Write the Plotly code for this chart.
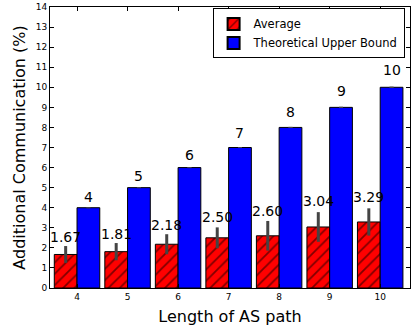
import plotly.graph_objects as go

path_len = [4, 5, 6, 7, 8, 9, 10]
avg = [1.67, 1.81, 2.18, 2.50, 2.60, 3.04, 3.29]
avg_err = [0.42, 0.43, 0.50, 0.52, 0.74, 0.74, 0.68]
upper = [4, 5, 6, 7, 8, 9, 10]
upper_err = [0, 0, 0, 0, 0, 0, 0]
y_ticks = list(range(0, 15))

FONT = "DejaVu Sans"
W = 0.45

fig = go.Figure()
fig.add_trace(go.Bar(
    x=path_len, y=avg, name="Average", width=W, offset=-W,
    marker=dict(color="red", line=dict(color="black", width=1),
                pattern=dict(shape="/", fgcolor="black", bgcolor="red", size=8, solidity=0.22)),
    error_y=dict(type="data", array=avg_err, color="#444444", thickness=3, width=0),
))
fig.add_trace(go.Bar(
    x=path_len, y=upper, name="Theoretical Upper Bound", width=W, offset=0,
    marker=dict(color="blue", line=dict(color="black", width=1)),
    error_y=dict(type="data", array=upper_err, color="#444444", thickness=1, width=2),
))

ann = []
for x, v, e in zip(path_len, avg, avg_err):
    ann.append(dict(x=x - W / 2, y=1.05 * (v + e), text=f"{v:.2f}", showarrow=False,
                    yanchor="bottom", xanchor="center", yshift=-3,
                    font=dict(family=FONT, size=14, color="black")))
for x, v in zip(path_len, upper):
    ann.append(dict(x=x + W / 2, y=1.05 * v, text=f"{v}", showarrow=False,
                    yanchor="bottom", xanchor="center", yshift=-3,
                    font=dict(family=FONT, size=14, color="black")))

fig.update_layout(
    width=413, height=329,
    margin=dict(l=50, r=3, t=7, b=41),
    barmode="overlay",
    plot_bgcolor="white", paper_bgcolor="white",
    font=dict(family=FONT, color="black"),
    annotations=ann,
    showlegend=True,
    legend=dict(x=0.985, y=0.995, xanchor="right", yanchor="top",
                bgcolor="white", bordercolor="black", borderwidth=1,
                font=dict(family=FONT, size=11.5, color="black"),
                tracegroupgap=0, itemsizing="constant"),
    xaxis=dict(range=[3.465, 10.59], tickvals=path_len, ticktext=[str(v) for v in path_len],
               ticks="inside", ticklen=4, tickcolor="black", mirror="ticks",
               showline=True, linecolor="black", linewidth=1, showgrid=False, zeroline=False,
               tickfont=dict(family=FONT, size=9),
               title=dict(text="Length of AS path", font=dict(family=FONT, size=16), standoff=10)),
    yaxis=dict(range=[0, 14], tickvals=y_ticks,
               ticks="inside", ticklen=4, tickcolor="black", mirror="ticks",
               showline=True, linecolor="black", linewidth=1, showgrid=False, zeroline=False,
               tickfont=dict(family=FONT, size=9),
               title=dict(text="Additional Communication (%)", font=dict(family=FONT, size=16), standoff=6)),
)

fig.write_html("out.html")
